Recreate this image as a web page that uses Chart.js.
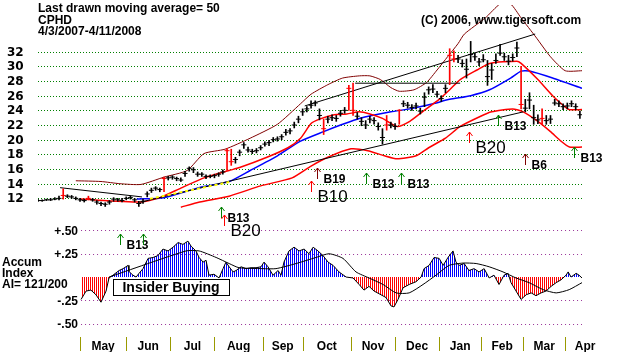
<!DOCTYPE html>
<html>
<head>
<meta charset="utf-8">
<script src="https://cdn.jsdelivr.net/npm/chart.js@4.4.1/dist/chart.umd.min.js"></script>
<style>
  html, body { margin: 0; padding: 0; background: #fff; }
  canvas { display: block; }
</style>
</head>
<body>
<canvas id="chart" width="638" height="352"></canvas>
<script>
// CPHD 4/3/2007 - 4/11/2008, x axis = trading day (day 0 = 4/3/2007)
// one price bar every 2nd trading day
const barHigh = [
  11.9,11.8,11.9,12.0,12.1,12.3,13.3,12.5,12.4,12.2,
  12.0,11.9,12.3,12.0,11.7,11.5,11.4,11.7,12.1,12.0,
  12.0,12.2,12.3,12.0,11.6,11.9,12.9,13.4,13.6,13.4,
  14.9,15.0,15.1,14.9,14.8,15.7,16.3,16.2,15.6,15.5,
  15.2,15.2,15.3,15.5,15.9,18.8,18.7,17.6,18.6,19.6,
  19.0,18.7,18.8,19.2,19.7,19.9,20.3,20.4,20.7,21.4,
  21.5,22.4,23.2,24.2,24.5,25.3,25.3,24.2,22.8,23.2,
  23.4,23.3,24.0,24.4,27.4,27.7,23.7,23.0,22.6,23.2,
  23.0,22.3,21.5,23.3,22.4,22.2,24.1,25.3,25.1,24.8,
  25.0,24.3,26.4,27.2,27.5,26.6,26.0,27.5,32.4,32.1,
  31.5,30.9,31.0,33.4,31.8,31.1,31.6,30.8,30.4,31.7,
  33.0,31.8,31.5,31.7,33.3,30.0,25.5,26.4,24.7,23.4,
  24.2,23.3,23.3,25.5,25.3,24.9,25.0,25.3,24.9,23.9
];
const barLow = [
  11.6,11.6,11.7,11.7,11.8,11.8,11.9,12.1,12.0,11.8,
  11.6,11.5,11.8,11.6,11.2,11.0,10.9,11.2,11.6,11.6,
  11.5,11.8,11.9,11.5,10.9,11.3,12.2,12.8,13.1,12.9,
  12.9,14.5,14.6,14.4,14.3,15.0,15.7,15.5,15.0,15.0,
  14.7,14.8,14.8,15.0,15.3,15.8,16.5,16.8,17.8,18.8,
  18.3,18.1,18.2,18.6,19.1,19.2,19.7,19.8,20.0,20.6,
  20.8,21.6,22.3,23.3,23.8,24.3,24.6,22.7,20.7,22.3,
  22.6,22.5,23.2,23.6,24.0,23.3,22.8,21.9,21.5,22.3,
  22.1,21.3,19.4,21.3,21.6,21.4,22.1,24.5,24.3,24.0,
  24.2,23.5,24.5,26.2,26.4,25.8,25.2,26.4,27.5,30.6,
  30.5,29.9,28.4,30.6,30.8,30.1,30.6,27.4,28.2,30.4,
  31.5,30.8,30.2,30.7,31.3,24.2,23.8,24.2,22.1,22.2,
  22.1,22.1,22.2,24.7,24.5,24.1,24.2,24.5,24.1,22.9
];
const barClose = [
  11.7,11.7,11.8,11.8,11.9,12.0,12.4,12.3,12.2,12.0,
  11.8,11.7,12.0,11.8,11.5,11.3,11.2,11.5,11.9,11.8,
  11.7,12.0,12.1,11.8,11.3,11.6,12.6,13.1,13.4,13.2,
  14.7,14.8,14.9,14.7,14.5,15.4,16.1,15.9,15.3,15.3,
  15.0,15.0,15.1,15.3,15.6,18.5,17.0,17.3,18.3,19.3,
  18.6,18.4,18.5,18.9,19.4,19.6,20.0,20.1,20.4,21.0,
  21.2,22.0,22.8,23.8,24.2,24.7,25.0,23.3,21.5,22.8,
  23.0,22.9,23.6,24.0,27.0,24.0,23.2,22.5,22.0,22.8,
  22.6,21.8,20.3,22.0,22.0,21.8,24.0,24.9,24.7,24.4,
  24.6,23.9,25.8,26.8,26.9,26.2,25.6,27.0,31.5,31.0,
  31.0,30.4,29.6,31.6,31.3,30.6,30.9,28.6,29.5,30.8,
  31.8,31.3,30.7,31.2,32.5,24.8,24.3,25.4,23.0,22.7,
  22.9,22.6,22.8,25.0,24.9,24.5,24.6,24.9,24.5,23.4
];
const redBars = [6,12,30,45,46,68,74,75,83,86,98,99,115,120];

// bands and moving averages (day, price)
const upperDays = [18,30,39,49,60,71,79,89,101,114,125,130,138,145,153,158,163,168,172,179,185,190,195,200,203,213,220,225,230,237,244,251,259];
const upperVals = [14.4,14.3,14.0,13.9,14.9,15.8,18.1,18.7,20.2,22.1,24.9,26.2,27.5,28.4,28.7,28.7,28.2,27.1,26.6,26.8,27.8,29.5,31.3,33.1,34.4,36.6,38.5,38.5,36.6,34.0,31.3,29.4,29.4];
const maDays = [20,49,58,68,79,91,96,109,119,125,130,134,141,147,153,158,164,171,177,183,191,196,201,209,215,228,230,238,245,250,253,259];
const maVals = [11.9,11.5,12.1,13.4,14.8,15.8,16.2,17.6,18.9,20.2,22.2,22.8,23.4,23.5,23.8,23.5,22.9,21.8,22.5,23.8,25.5,26.8,28.2,29.5,30.4,30.7,30.4,28.2,26.0,24.7,24.1,24.1];
const ma50Days = [47,60,77,91,101,114,125,136,145,153,168,177,188,196,206,215,225,230,234,245,259];
const ma50Vals = [11.9,12.1,13.5,14.3,15.8,17.8,19.8,21.1,22.1,22.9,23.8,24.2,24.9,25.5,26.0,26.8,28.4,29.35,29.35,28.4,27.0];
const lowerDays = [68,77,91,106,121,130,138,149,157,165,171,180,186,194,201,210,216,226,231,238,244,249,253,259];
const lowerVals = [10.8,11.5,12.3,13.7,14.8,16.4,17.6,18.75,18.5,17.8,17.4,17.8,18.9,20.2,21.8,23.1,23.8,24.2,23.8,22.5,21.1,19.8,19.0,19.0];

// drawn trend lines: [startDay, startPrice, endDay, endPrice]
const trendLines = [
  [10.5, 13.46, 49.5, 12.2],
  [48.6, 11.47, 231, 23.79],
  [127, 24.6, 236.7, 34.4],
  [151, 27.7, 201, 27.7]
];
const yellowLine = [53.3, 11.95, 92.4, 14.3];

// accumulation index panel
const aiDays = [20.5,22.9,25.2,27.6,30,32.4,33.8,35.7,38.6,40.5,42.9,43.3,45.2,46.7,48.1,50,52.4,54.8,57.1,59.5,61.9,64.3,66.7,69,71.4,72.9,75.2,76.7,78.6,80,81.4,83.8,86.2,88.1,89.5,91,92.9,94.3,96.7,99,101.4,103.8,106.2,107.6,109.5,111.9,114.3,115.7,117.1,119.5,121.9,124.3,126.7,129,131,133.3,135.7,138.1,140.5,143.3,146.7,150,152.9,155.2,157.6,160,163.3,165.7,168.1,169.5,171.4,173.8,176.7,180,182.4,183.8,186.2,188.6,191,192.9,195.2,197.6,199,200.5,202.9,205.2,207.6,210,212.4,214.8,217.1,219.5,221.9,223.8,225.2,227.6,230,232.4,234.8,237.1,239.5,241.9,244.3,246.7,249,251.4,252.4,253.8,256.2,257.6,259];
const aiVals = [-0.24,-0.15,-0.14,-0.19,-0.27,-0.15,-0.01,0.02,0.07,0.09,0.125,0.06,0.02,0.0,0.04,0.09,0.2,0.21,0.23,0.3,0.28,0.32,0.37,0.35,0.385,0.33,0.28,0.21,0.16,0.18,0.02,0.03,-0.01,0.09,0.16,0.11,0.055,0.07,0.11,0.09,0.1,0.1,0.11,0.16,0.11,0.02,0.07,0.02,0.16,0.28,0.32,0.28,0.3,0.25,0.32,0.28,0.23,0.16,0.125,0.055,0.0,-0.01,-0.08,-0.14,-0.1,-0.15,-0.19,-0.22,-0.31,-0.32,-0.24,-0.115,-0.08,-0.05,0.0,0.09,0.125,0.21,0.2,0.125,0.21,0.28,0.16,0.125,0.145,0.07,0.09,0.055,0.09,-0.01,0.02,-0.08,0.02,0.04,-0.06,-0.15,-0.24,-0.19,-0.17,-0.2,-0.17,-0.15,-0.1,-0.06,-0.03,0.02,0.055,0.0,0.04,0.02,-0.01];
const aiMaDays = [33.8,70.5,76.7,84.8,91,95.7,107.1,113.3,122.9,132.4,138.6,145.2,151.4,157.6,164.3,170.5,176.7,183.3,189.5,195.7,202.4,208.6,214.8,221.4,227.6,233.8,240.5,246.7,252.9,259];
const aiMaVals = [0.0,0.28,0.28,0.21,0.145,0.1,0.09,0.09,0.145,0.21,0.25,0.2,0.055,-0.01,-0.08,-0.17,-0.17,-0.08,0.02,0.125,0.15,0.145,0.11,0.055,-0.01,-0.06,-0.135,-0.17,-0.135,-0.06];

// signals
const sigDays   = [39, 50, 87, 88.5, 130, 133, 156, 173, 205, 219, 232, 255];
const sigLevels = [7.2, 7.2, 10.8, 9.8, 14.4, 16.2, 15.4, 15.4, 21.0, 23.4, 18.1, 19.0];
const sigColors = ['#008000','#008000','#008000','#ff0000','#ff0000','#800000','#008000','#008000','#ff0000','#008000','#800000','#008000'];
const sigLabels = ['B13', '', 'B13', 'B20', 'B10', 'B19', 'B13', 'B13', 'B20', 'B13', 'B6', 'B13'];
const sigBig    = [false,false,false,true,true,false,false,false,true,false,false,false];

const priceTicks = [12,14,16,18,20,22,24,26,28,30,32];
const aiTicks = [0.5, 0.25, -0.25, -0.5];
const aiTickLabels = ['+.50', '+.25', '-.25', '-.50'];
const monthStarts = [20, 42, 63, 84, 107, 126, 149, 170, 191, 211, 231, 251, 270];
const monthNames = ['May','Jun','Jul','Aug','Sep','Oct','Nov','Dec','Jan','Feb','Mar','Apr'];

const FONT = '"Liberation Sans", Arial, sans-serif';

function pairs(days, vals) {
  return days.map((d, i) => ({ x: d, y: vals[i] }));
}

function stripes(color) {
  const c = document.createElement('canvas');
  c.width = 2;
  c.height = 1;
  const g = c.getContext('2d');
  g.fillStyle = color;
  g.fillRect(0, 0, 1, 1);
  return g.createPattern(c, 'repeat');
}

const barData = barHigh.map((h, i) => ({ x: i * 2, y: [barLow[i], h] }));
const closeData = barClose.map((c, i) => ({ x: i * 2, y: c }));
const barColors = barHigh.map((h, i) => redBars.includes(i) ? '#ff0000' : '#000000');

function lineSet(data, color, width, extra) {
  return Object.assign({
    type: 'line', data, borderColor: color, borderWidth: width,
    pointRadius: 0, fill: false, tension: 0.2, yAxisID: 'y'
  }, extra || {});
}

const gridPlugin = {
  id: 'grids',
  beforeDatasetsDraw(chart) {
    const { ctx, scales: { x, y, ai } } = chart;
    ctx.save();
    ctx.lineWidth = 1;
    ctx.setLineDash([1, 2]);
    ctx.strokeStyle = '#008000';
    priceTicks.forEach(v => {
      const py = Math.round(y.getPixelForValue(v)) + 0.5;
      ctx.beginPath();
      ctx.moveTo(x.left, py);
      ctx.lineTo(x.right, py);
      ctx.stroke();
    });
    ctx.setLineDash([1, 3]);
    ctx.strokeStyle = '#993399';
    aiTicks.forEach(v => {
      const py = Math.round(ai.getPixelForValue(v)) + 0.5;
      ctx.beginPath();
      ctx.moveTo(x.getPixelForValue(aiDays[0]), py);
      ctx.lineTo(x.right, py);
      ctx.stroke();
    });
    ctx.restore();
  }
};

const overlayPlugin = {
  id: 'overlay',
  afterDraw(chart) {
    const { ctx, scales: { x, y, ai } } = chart;
    ctx.save();
    ctx.fillStyle = '#000';
    ctx.textAlign = 'left';
    ctx.textBaseline = 'alphabetic';
    ctx.font = 'bold 12px ' + FONT;
    ctx.fillText('Last drawn moving average= 50', 38, 12);
    ctx.fillText('CPHD', 38, 24);
    ctx.fillText('4/3/2007-4/11/2008', 38, 35);
    ctx.fillText('(C) 2006, www.tigersoft.com', 421, 24);

    // price axis labels
    ctx.font = 'bold 12px "DejaVu Sans", sans-serif';
    ctx.textBaseline = 'middle';
    priceTicks.forEach(v => ctx.fillText(String(v), 7, y.getPixelForValue(v) + 1));

    // AI axis labels
    ctx.font = 'bold 12px ' + FONT;
    ctx.textAlign = 'right';
    aiTicks.forEach((v, i) => ctx.fillText(aiTickLabels[i], 78, ai.getPixelForValue(v) + 1));
    ctx.textAlign = 'left';
    ctx.textBaseline = 'alphabetic';
    ctx.fillText('Accum', 2, 266);
    ctx.fillText('Index', 2, 277);
    ctx.fillText('AI= 121/200', 2, 288);

    // insider buying box
    const bx = x.getPixelForValue(35.7), bx2 = x.getPixelForValue(91);
    const by = ai.getPixelForValue(-0.02), by2 = ai.getPixelForValue(-0.19);
    ctx.fillStyle = '#fff';
    ctx.fillRect(bx, by, bx2 - bx, by2 - by);
    ctx.strokeStyle = '#000';
    ctx.lineWidth = 1;
    ctx.strokeRect(Math.round(bx) + 0.5, Math.round(by) + 0.5, Math.round(bx2 - bx), Math.round(by2 - by));
    ctx.fillStyle = '#000';
    ctx.font = 'bold 14px ' + FONT;
    ctx.textAlign = 'center';
    ctx.textBaseline = 'middle';
    ctx.fillText('Insider Buying', (bx + bx2) / 2, (by + by2) / 2 + 1);

    // month separators and names
    ctx.strokeStyle = '#9a9a00';
    monthStarts.slice(0, 12).forEach(d => {
      const px = Math.round(x.getPixelForValue(d)) + 0.5;
      ctx.beginPath();
      ctx.moveTo(px, 337);
      ctx.lineTo(px, 351);
      ctx.stroke();
    });
    ctx.font = 'bold 12px ' + FONT;
    ctx.textBaseline = 'alphabetic';
    monthNames.forEach((m, i) => {
      const mid = (monthStarts[i] + monthStarts[i + 1]) / 2;
      ctx.fillText(m, x.getPixelForValue(mid), 350);
    });

    // buy signals
    ctx.textAlign = 'left';
    sigDays.forEach((d, i) => {
      const px = Math.round(x.getPixelForValue(d)) + 0.5;
      const py = Math.round(y.getPixelForValue(sigLevels[i]));
      ctx.strokeStyle = sigColors[i];
      ctx.beginPath();
      ctx.moveTo(px, py);
      ctx.lineTo(px, py + 11);
      ctx.moveTo(px - 3, py + 4);
      ctx.lineTo(px, py);
      ctx.lineTo(px + 3, py + 4);
      ctx.stroke();
      if (sigLabels[i]) {
        ctx.fillStyle = '#000';
        if (sigBig[i]) {
          ctx.font = '17px ' + FONT;
          ctx.fillText(sigLabels[i], px + 6, py + 21);
        } else {
          ctx.font = 'bold 12px ' + FONT;
          ctx.fillText(sigLabels[i], px + 6, py + 15);
        }
      }
    });
    ctx.restore();
  }
};

const datasets = [
  {
    type: 'scatter', data: closeData, yAxisID: 'y',
    pointStyle: 'line', pointRadius: 2.5, pointBorderWidth: 1,
    pointBorderColor: barColors, borderColor: barColors, showLine: false
  },
  {
    type: 'bar', data: barData, yAxisID: 'y',
    backgroundColor: barColors, borderWidth: 0, barThickness: 1
  },
  lineSet([{ x: yellowLine[0], y: yellowLine[1] }, { x: yellowLine[2], y: yellowLine[3] }], '#ffff00', 2, { borderDash: [3, 3], tension: 0 }),
  ...trendLines.map(t => lineSet([{ x: t[0], y: t[1] }, { x: t[2], y: t[3] }], '#000000', 1, { tension: 0 })),
  lineSet(pairs(maDays, maVals), '#ff0000', 1.5),
  lineSet(pairs(ma50Days, ma50Vals), '#0000ff', 1.5),
  lineSet(pairs(upperDays, upperVals), '#800000', 1),
  lineSet(pairs(lowerDays, lowerVals), '#ff0000', 1.5),
  lineSet(pairs(aiMaDays, aiMaVals), '#000000', 1, { yAxisID: 'ai' }),
  lineSet(pairs(aiDays, aiVals), '#000000', 1, {
    yAxisID: 'ai', tension: 0,
    fill: { target: { value: 0 }, above: stripes('#0000ff'), below: stripes('#ff0000') }
  })
];

new Chart(document.getElementById('chart'), {
  type: 'line',
  data: { datasets },
  options: {
    responsive: false,
    devicePixelRatio: 1,
    animation: false,
    events: [],
    layout: { padding: { left: 38, right: 56, top: 0, bottom: 0 } },
    plugins: { legend: { display: false }, tooltip: { enabled: false } },
    scales: {
      x: { type: 'linear', min: 0, max: 259, display: false, offset: false },
      y: { type: 'linear', min: -8.26, max: 38.36, display: false },
      ai: { type: 'linear', min: -0.75, max: 2.9167, display: false }
    }
  },
  plugins: [gridPlugin, overlayPlugin]
});
</script>
</body>
</html>
